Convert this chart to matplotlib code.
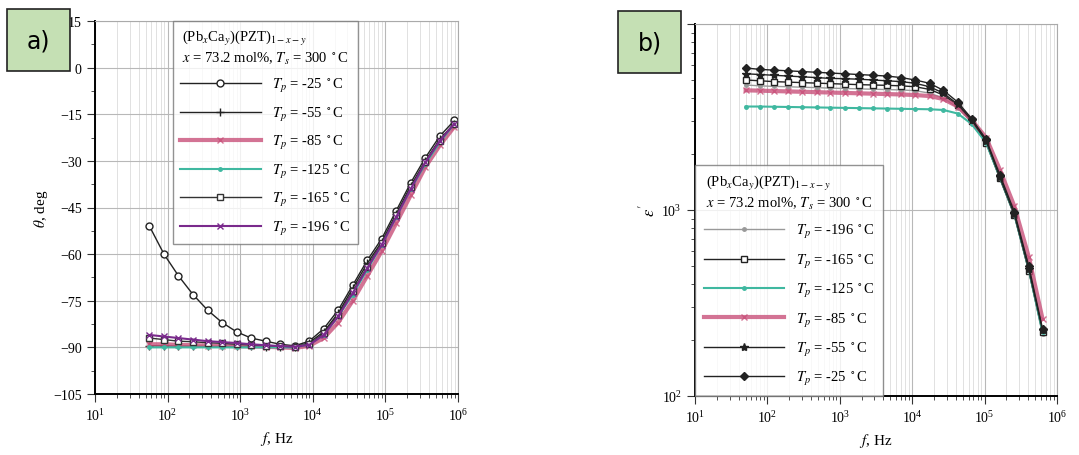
import numpy as np
import matplotlib.pyplot as plt
from matplotlib.patches import Rectangle
from matplotlib.ticker import LogLocator, NullFormatter, MultipleLocator

plt.rcParams['font.family'] = ['Liberation Serif', 'DejaVu Serif']
plt.rcParams['mathtext.fontset'] = 'stix'

# frequency grids (log10 of f, Hz)
logf_a = [1.75, 1.95, 2.15, 2.35, 2.55, 2.75, 2.95, 3.15, 3.35, 3.55, 3.75,
          3.95, 4.15, 4.35, 4.55, 4.75, 4.95, 5.15, 5.35, 5.55, 5.75, 5.95]
logf_b = [1.70, 1.90, 2.09, 2.29, 2.48, 2.68, 2.87, 3.07, 3.26, 3.46, 3.65,
          3.85, 4.04, 4.24, 4.43, 4.63, 4.82, 5.02, 5.21, 5.41, 5.61, 5.80]

# panel a: phase angle, degrees
phase_m25 = [-51, -60, -67, -73, -78, -82, -85, -87, -88, -89, -89.5,
             -88, -84, -78, -70, -62, -55, -46, -37, -29, -22, -17]
phase_m55 = [-89.5, -89.5, -89.6, -89.6, -89.7, -89.7, -89.7, -89.7, -89.8, -89.8, -89.8,
             -88.5, -85, -79, -71, -63, -56, -47, -38, -30, -23, -18]
phase_m85 = [-89, -89, -89.2, -89.3, -89.4, -89.5, -89.6, -89.7, -89.8, -90, -90.2,
             -89.5, -87, -82, -75, -67, -59, -50, -41, -32, -25, -19]
phase_m125 = [-90, -90, -90, -90, -90, -90, -90, -90, -90, -90, -90,
              -89, -86, -80, -73, -65, -57, -48, -39, -31, -24, -18]
phase_m165 = [-87, -87.5, -88, -88.2, -88.5, -88.7, -89, -89.2, -89.4, -89.6, -89.8,
              -89, -85.5, -79.5, -72, -64, -56.5, -47.5, -38.5, -30.5, -23.5, -18]
phase_m196 = [-86, -86.5, -87, -87.5, -88, -88.3, -88.6, -89, -89.3, -89.6, -89.8,
              -89.2, -86, -80, -72.5, -64.5, -57, -48, -39, -30.5, -23.5, -18]

# panel b: permittivity
eps_m25 = [5800, 5700, 5650, 5600, 5550, 5500, 5450, 5400, 5350, 5300, 5250,
           5150, 5000, 4800, 4400, 3800, 3100, 2400, 1550, 980, 500, 230]
eps_m55 = [5400, 5350, 5300, 5250, 5200, 5150, 5100, 5080, 5050, 5000, 4950,
           4900, 4800, 4600, 4250, 3700, 3050, 2350, 1500, 950, 480, 225]
eps_m85 = [4400, 4380, 4360, 4340, 4320, 4300, 4280, 4260, 4240, 4220, 4200,
           4180, 4150, 4100, 3950, 3600, 3050, 2450, 1650, 1050, 560, 260]
eps_m125 = [3600, 3600, 3590, 3580, 3570, 3560, 3550, 3540, 3530, 3520, 3510,
            3500, 3490, 3480, 3450, 3300, 2900, 2300, 1500, 950, 480, 220]
eps_m165 = [5000, 4950, 4900, 4870, 4840, 4810, 4780, 4750, 4720, 4700, 4680,
            4650, 4600, 4450, 4150, 3650, 3000, 2300, 1480, 940, 470, 220]
eps_m196 = [4700, 4650, 4620, 4600, 4570, 4550, 4520, 4500, 4480, 4460, 4440,
            4420, 4380, 4250, 4000, 3550, 2950, 2300, 1480, 930, 470, 215]

title1 = r'(Pb$_x$Ca$_y$)(PZT)$_{1-x-y}$'
title2 = r'$x$ = 73.2 mol%, $T_s$ = 300 $^\circ$C'

fa = 10 ** np.array(logf_a)
fb = 10 ** np.array(logf_b)

fig = plt.figure(figsize=(10.79, 4.56), dpi=100)
axa = fig.add_axes([95 / 1079, 1 - 395 / 456, 363 / 1079, 373 / 456])
axb = fig.add_axes([695 / 1079, 1 - 397 / 456, 362 / 1079, 372 / 456])

def style_axis(ax):
    ax.set_xscale('log')
    ax.set_xlim(1e1, 1e6)
    ax.xaxis.set_major_locator(LogLocator(base=10, numticks=10))
    ax.xaxis.set_minor_locator(LogLocator(base=10, subs=np.arange(2, 10), numticks=50))
    ax.xaxis.set_minor_formatter(NullFormatter())
    ax.grid(True, which='major', color='#b8b8b8', lw=0.8)
    ax.grid(True, which='minor', axis='x', color='#dcdcdc', lw=0.6)
    ax.set_axisbelow(True)
    for s in ['top', 'right']:
        ax.spines[s].set_color('#aaaaaa')
    for s in ['left', 'bottom']:
        ax.spines[s].set_linewidth(1.4)
    ax.tick_params(which='both', direction='out', labelsize=10, color='#333333')
    ax.tick_params(which='major', length=6)
    ax.tick_params(which='minor', length=3)
    ax.set_xlabel(r'$f$, Hz', fontsize=11, labelpad=4)

# ---- panel a
style_axis(axa)
axa.set_ylim(-105, 15)
axa.yaxis.set_major_locator(MultipleLocator(15))
axa.yaxis.set_minor_locator(MultipleLocator(7.5))
axa.plot(fa, phase_m25, color='#222222', lw=1.0, marker='o', ms=5, mfc='white', mec='#222222',
         label=r'$T_p$ = -25 $^\circ$C')
axa.plot(fa, phase_m55, color='#222222', lw=1.0, marker='+', ms=6,
         label=r'$T_p$ = -55 $^\circ$C')
axa.plot(fa, phase_m85, color='#c8507a', lw=3.0, marker='x', ms=5, alpha=0.8,
         label=r'$T_p$ = -85 $^\circ$C')
axa.plot(fa, phase_m125, color='#3fb8a0', lw=1.5, marker='.', ms=5,
         label=r'$T_p$ = -125 $^\circ$C')
axa.plot(fa, phase_m165, color='#333333', lw=1.0, marker='s', ms=4, mfc='white', mec='#333333',
         label=r'$T_p$ = -165 $^\circ$C')
axa.plot(fa, phase_m196, color='#7a2a8c', lw=1.5, marker='x', ms=4,
         label=r'$T_p$ = -196 $^\circ$C')
axa.set_ylabel(r'$\theta$, deg', fontsize=11, labelpad=2)
leg = axa.legend(loc='upper left', bbox_to_anchor=(0.215, 1.0), borderaxespad=0,
                 title=title1 + '\n' + title2,
                 fontsize=10.5, title_fontsize=10.5, frameon=True, fancybox=False,
                 edgecolor='#777777', handlelength=5.5, labelspacing=0.72, borderpad=0.5)
leg.get_frame().set_linewidth(1.0)

# ---- panel b
style_axis(axb)
axb.set_yscale('log')
axb.set_ylim(1e2, 1e4)
axb.yaxis.set_major_locator(LogLocator(base=10, numticks=10))
axb.yaxis.set_minor_locator(LogLocator(base=10, subs=np.arange(2, 10), numticks=50))
axb.yaxis.set_minor_formatter(NullFormatter())
axb.plot(fb, eps_m196, color='#999999', lw=1.0, marker='.', ms=5,
         label=r'$T_p$ = -196 $^\circ$C')
axb.plot(fb, eps_m165, color='#222222', lw=1.0, marker='s', ms=5, mfc='white', mec='#222222',
         label=r'$T_p$ = -165 $^\circ$C')
axb.plot(fb, eps_m125, color='#3fb8a0', lw=1.5, marker='.', ms=5,
         label=r'$T_p$ = -125 $^\circ$C')
axb.plot(fb, eps_m85, color='#c8507a', lw=3.0, marker='x', ms=5, alpha=0.8,
         label=r'$T_p$ = -85 $^\circ$C')
axb.plot(fb, eps_m55, color='#222222', lw=1.0, marker='*', ms=6,
         label=r'$T_p$ = -55 $^\circ$C')
axb.plot(fb, eps_m25, color='#222222', lw=1.0, marker='D', ms=4,
         label=r'$T_p$ = -25 $^\circ$C')
axb.set_ylabel(r"$\varepsilon'$", fontsize=12, labelpad=2)
leg = axb.legend(loc='lower left', bbox_to_anchor=(0.0, 0.0), borderaxespad=0,
                 title=title1 + '\n' + title2,
                 fontsize=10.5, title_fontsize=10.5, frameon=True, fancybox=False,
                 edgecolor='#777777', handlelength=5.5, labelspacing=0.78, borderpad=0.6)
leg.get_frame().set_linewidth(1.0)

# panel tags
for x0, y0, txt in [(7, 10, 'a)'), (618, 12, 'b)')]:
    fig.patches.append(Rectangle((x0 / 1079, 1 - (y0 + 62) / 456), 63 / 1079, 62 / 456,
                                 transform=fig.transFigure, facecolor='#c5e0b4',
                                 edgecolor='#222222', lw=1.2, zorder=10))
    fig.text((x0 + 31.5) / 1079, 1 - (y0 + 31) / 456, txt, ha='center', va='center',
             fontsize=17, family='DejaVu Sans', zorder=11)

fig.savefig('out.png', dpi=100)
